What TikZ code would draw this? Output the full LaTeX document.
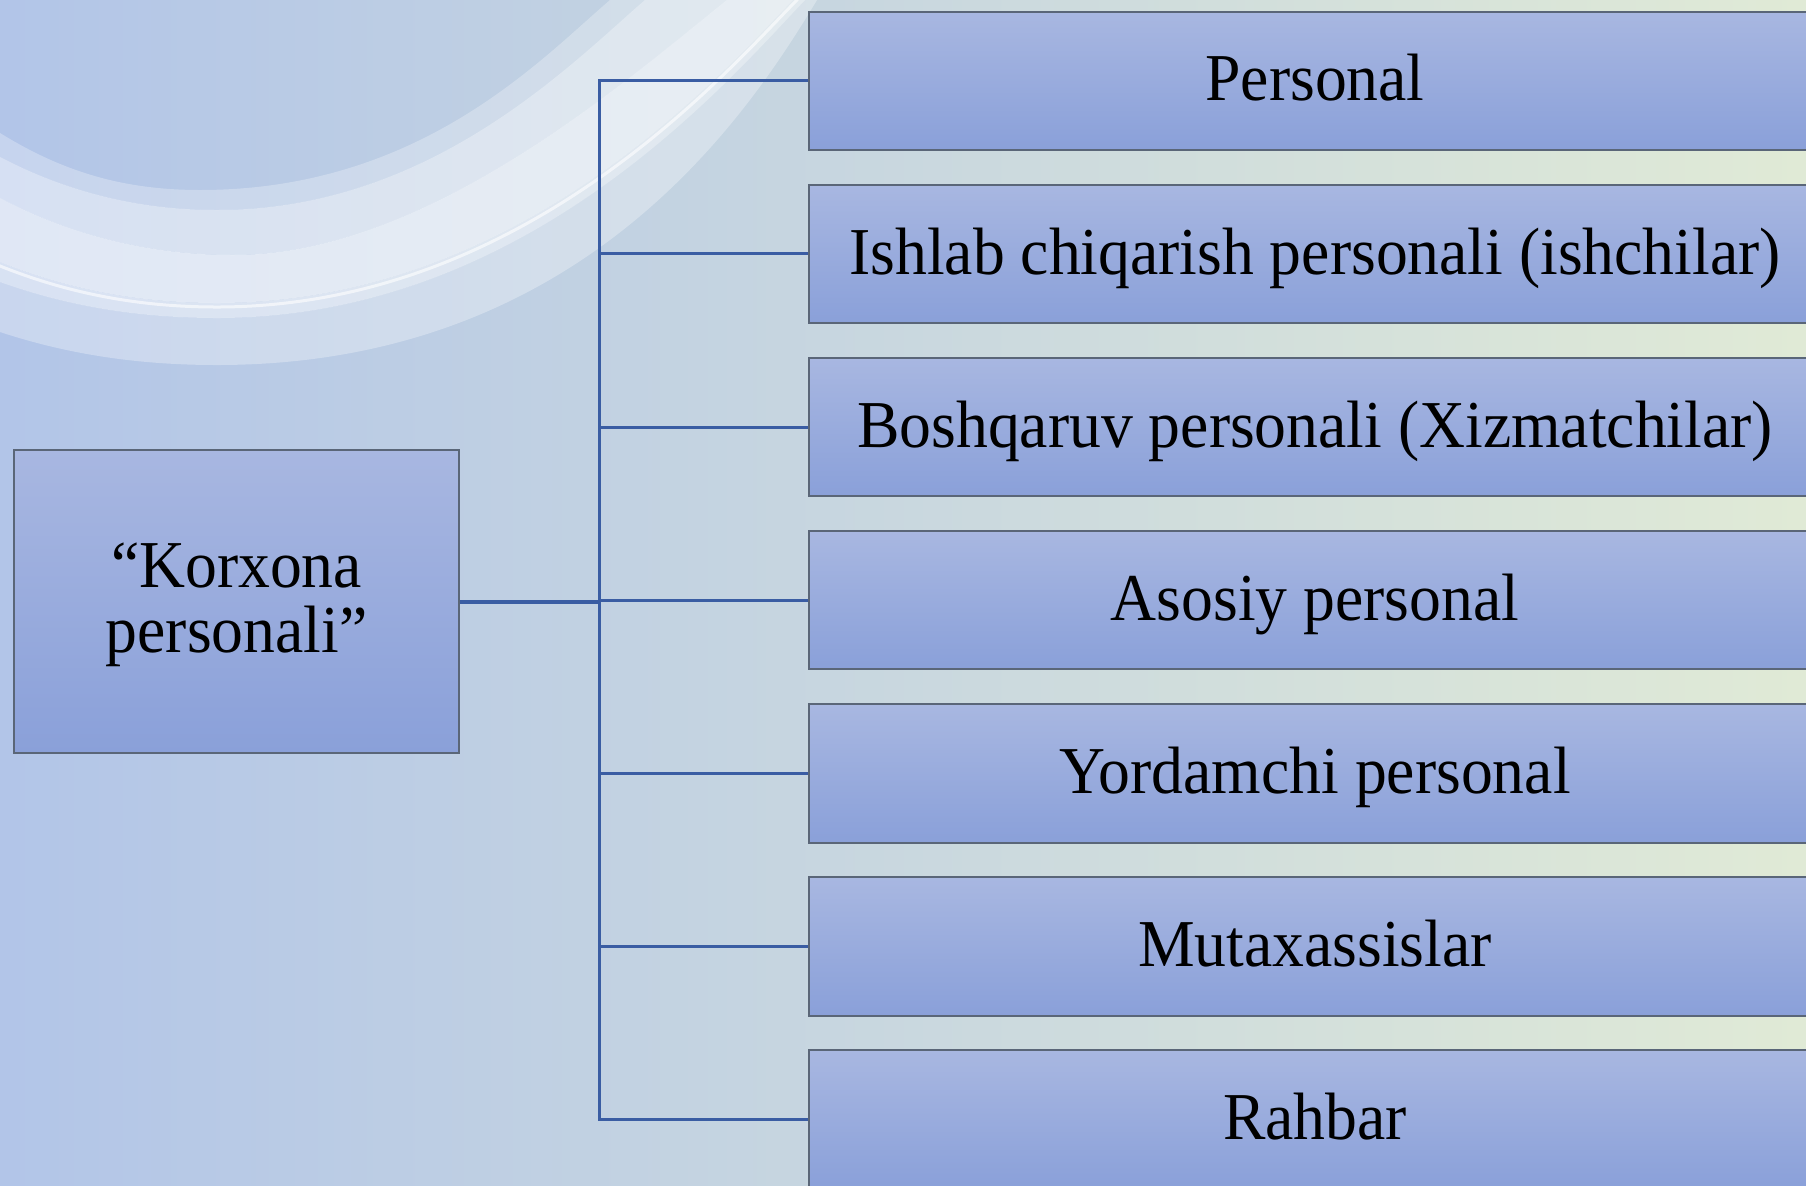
\documentclass[tikz,border=0pt]{standalone}
\usepackage{fontspec}
\setmainfont{Liberation Serif}[FakeStretch=0.95]
\definecolor{boxtop}{HTML}{A8B7E1}
\definecolor{boxbot}{HTML}{8AA0D9}
\definecolor{boxline}{HTML}{5A6678}
\definecolor{linkblue}{HTML}{3A5DA3}
\definecolor{bgleft}{HTML}{B2C5E8}
\definecolor{bgright}{HTML}{E0EAD6}
% outlines of the curved bands in the upper left corner
\def\arcA{(-40,108) -- (0,133) .. controls (60,170) and (120,190) .. (200,190)
  .. controls (420,190) and (540,60) .. (610,0) -- (645,-30)}
\def\arcB{(-40,136) -- (0,157) .. controls (65,191) and (137,210) .. (217,210)
  .. controls (430,210) and (570,65) .. (645,0) -- (680,-30)}
\def\arcC{(-40,177) -- (0,198) .. controls (70,235) and (150,255) .. (233,255)
  .. controls (430,255) and (630,77) .. (727,0) -- (765,-30)}
\def\arcD{(-40,246) -- (0,262) .. controls (70,290) and (140,303) .. (217,303)
  .. controls (520,303) and (720,75) .. (793,0) -- (823,-31)}
\def\arcE{(-40,268) -- (0,282) .. controls (70,307) and (140,318) .. (217,318)
  .. controls (530,318) and (732,76) .. (805,0) -- (834,-30)}
\def\arcF{(-40,319) -- (0,332) .. controls (70,355) and (140,365) .. (217,365)
  .. controls (580,365) and (745,120) .. (817,0) -- (835,-30)}
\begin{document}
\begin{tikzpicture}[x=0.5pt,y=-0.5pt,
  box/.style={draw=boxline, line width=1pt, top color=boxtop, bottom color=boxbot,
    font=\fontsize{33.5}{32.5}\selectfont, inner sep=0pt},
  item/.style={box, minimum width=506pt, minimum height=69.25pt,
    text height=28.5pt, text depth=8.4pt},
  link/.style={draw=linkblue, line width=1.5pt},
  swoosh/.style={white, even odd rule}]
\useasboundingbox (0,0) rectangle (1806,1185);
\clip (0,0) rectangle (1806,1185);

% background
\shade[left color=bgleft, right color=bgright] (0,0) rectangle (1806,1185);

% white bands
\fill[swoosh, opacity=0.27] \arcA -- (-100,-100) -- cycle \arcB -- (-100,-100) -- cycle;
\fill[swoosh, opacity=0.48] \arcB -- (-100,-100) -- cycle \arcC -- (-100,-100) -- cycle;
\fill[swoosh, opacity=0.6]  \arcC -- (-100,-100) -- cycle \arcD -- (-100,-100) -- cycle;
\fill[swoosh, opacity=0.5]  \arcD -- (-100,-100) -- cycle \arcE -- (-100,-100) -- cycle;
\fill[swoosh, opacity=0.3]  \arcE -- (-100,-100) -- cycle \arcF -- (-100,-100) -- cycle;
\begin{scope}[yshift=-2pt]
  \draw[white, opacity=0.6, line width=1.5pt] \arcD;
\end{scope}

% root box
\node[box, minimum width=222.5pt, minimum height=151.5pt, align=center, text depth=3.35pt]
  (root) at (236.5,601.5) {“Korxona\\personali”};

% category boxes
\node[item] (r1) at (1315,80.75)   {Personal};
\node[item] (r2) at (1315,253.9)   {Ishlab chiqarish personali (ishchilar)};
\node[item] (r3) at (1315,427.05)  {Boshqaruv personali (Xizmatchilar)};
\node[item] (r4) at (1315,600.2)   {Asosiy personal};
\node[item] (r5) at (1315,773.35)  {Yordamchi personal};
\node[item] (r6) at (1315,946.5)   {Mutaxassislar};
\node[item] (r7) at (1315,1119.65) {Rahbar};

% connectors
\coordinate (j) at (599,601.5);
\draw[link, line width=2pt] (root.east) -- (j);
\draw[link] (r1.west) -| (j) |- (r7.west);
\foreach \i in {2,...,6} \draw[link] (r\i.west) -- (j |- r\i.west);
\end{tikzpicture}
\end{document}
